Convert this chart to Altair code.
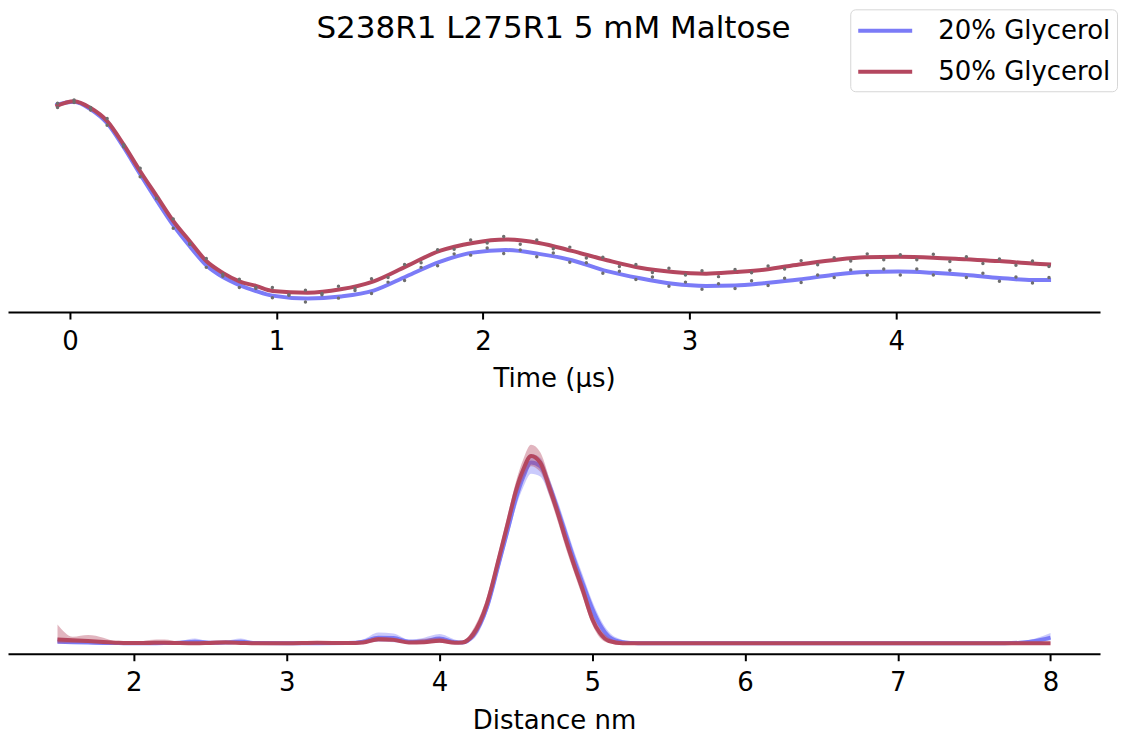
import altair as alt
import pandas as pd

TITLE = "S238R1 L275R1 5 mM Maltose"

# ---------------- data: time domain (top panel) ----------------
SERIES = ["20% Glycerol", "50% Glycerol"]

T_FIT = [-0.07, 0.02, 0.10, 0.18, 0.26, 0.34, 0.42, 0.50, 0.58, 0.66,
         0.74, 0.82, 0.90, 0.98, 1.15, 1.31, 1.47, 1.63, 1.79, 1.95,
         2.11, 2.27, 2.43, 2.60, 2.76, 2.92, 3.08, 3.22, 3.37, 3.53,
         3.69, 3.85, 4.01, 4.18, 4.34, 4.50, 4.66, 4.75]
FIT_20 = [0.991, 0.999, 0.981, 0.948, 0.891, 0.827, 0.765, 0.706, 0.656, 0.611,
          0.583, 0.564, 0.550, 0.539, 0.532, 0.537, 0.551, 0.585, 0.619, 0.641,
          0.647, 0.638, 0.623, 0.597, 0.580, 0.567, 0.562, 0.563, 0.569, 0.577,
          0.588, 0.595, 0.596, 0.593, 0.588, 0.581, 0.576, 0.576]
FIT_50 = [0.988, 1.000, 0.984, 0.953, 0.897, 0.834, 0.775, 0.716, 0.668, 0.621,
          0.593, 0.573, 0.562, 0.550, 0.546, 0.554, 0.573, 0.609, 0.645, 0.664,
          0.672, 0.664, 0.645, 0.623, 0.605, 0.595, 0.591, 0.595, 0.601, 0.613,
          0.623, 0.630, 0.631, 0.629, 0.625, 0.621, 0.615, 0.613]

T_DOT = [-0.06, 0.02, 0.10, 0.18, 0.26, 0.34, 0.42, 0.50, 0.58, 0.66,
         0.74, 0.82, 0.90, 0.98, 1.06, 1.14, 1.22, 1.30, 1.38, 1.46,
         1.54, 1.62, 1.70, 1.78, 1.86, 1.94, 2.02, 2.10, 2.18, 2.26,
         2.34, 2.42, 2.50, 2.58, 2.66, 2.74, 2.82, 2.90, 2.98, 3.06,
         3.14, 3.22, 3.30, 3.38, 3.46, 3.54, 3.62, 3.70, 3.78, 3.86,
         3.94, 4.02, 4.10, 4.18, 4.26, 4.34, 4.42, 4.50, 4.58, 4.66, 4.74]
DOT_20 = [0.995, 0.997, 0.985, 0.943, 0.897, 0.821, 0.770, 0.699, 0.662, 0.606,
          0.590, 0.558, 0.558, 0.534, 0.541, 0.524, 0.541, 0.533, 0.551, 0.544,
          0.571, 0.575, 0.606, 0.610, 0.638, 0.635, 0.652, 0.639, 0.647, 0.631,
          0.640, 0.618, 0.617, 0.592, 0.597, 0.577, 0.583, 0.561, 0.571, 0.554,
          0.567, 0.556, 0.574, 0.563, 0.580, 0.570, 0.588, 0.582, 0.600, 0.588,
          0.602, 0.588, 0.602, 0.588, 0.599, 0.582, 0.592, 0.573, 0.583, 0.569, 0.582]
DOT_50 = [0.985, 1.003, 0.979, 0.959, 0.892, 0.841, 0.769, 0.721, 0.661, 0.627,
          0.585, 0.578, 0.556, 0.558, 0.540, 0.552, 0.544, 0.561, 0.556, 0.579,
          0.582, 0.613, 0.617, 0.648, 0.649, 0.671, 0.664, 0.679, 0.661, 0.671,
          0.650, 0.654, 0.628, 0.630, 0.608, 0.613, 0.594, 0.604, 0.588, 0.598,
          0.584, 0.601, 0.593, 0.609, 0.602, 0.622, 0.612, 0.629, 0.621, 0.638,
          0.624, 0.636, 0.624, 0.637, 0.620, 0.631, 0.615, 0.626, 0.611, 0.621, 0.608]

TIME_TICKS = [0, 1, 2, 3, 4]

# ---------------- data: distance domain (bottom panel) ----------------
R = [1.5, 1.6, 1.7, 1.8, 1.9, 2.0, 2.1, 2.2, 2.3, 2.4, 2.5, 2.6, 2.7, 2.8,
     3.0, 3.2, 3.4, 3.5, 3.6, 3.7, 3.8, 3.9, 4.0, 4.1,
     4.15, 4.22, 4.31, 4.39, 4.45, 4.50, 4.55, 4.60, 4.66, 4.72,
     4.78, 4.83, 4.88, 4.94, 5.0, 5.05, 5.11, 5.2, 5.3,
     5.5, 6.0, 6.5, 7.0, 7.5, 7.7, 7.8, 7.9, 8.0]
P_20 = [0.008, 0.006, 0.004, 0.002, 0.001, 0.000, 0.000, 0.001, 0.003, 0.008, 0.003, 0.004, 0.008, 0.001,
        0.000, 0.000, 0.001, 0.008, 0.030, 0.028, 0.008, 0.010, 0.025, 0.006,
        0.004, 0.040, 0.190, 0.430, 0.615, 0.770, 0.890, 0.965, 0.945, 0.840,
        0.700, 0.575, 0.450, 0.315, 0.185, 0.100, 0.035, 0.006, 0.000,
        0.000, 0.000, 0.000, 0.000, 0.000, 0.000, 0.003, 0.012, 0.030]
LO_20 = [0.000, 0.000, 0.000, 0.000, 0.000, 0.000, 0.000, 0.000, 0.000, 0.000, 0.000, 0.000, 0.000, 0.000,
         0.000, 0.000, 0.000, 0.001, 0.008, 0.006, 0.001, 0.002, 0.005, 0.000,
         0.000, 0.020, 0.160, 0.395, 0.575, 0.725, 0.835, 0.905, 0.890, 0.790,
         0.655, 0.530, 0.405, 0.270, 0.150, 0.070, 0.015, 0.000, 0.000,
         0.000, 0.000, 0.000, 0.000, 0.000, 0.000, 0.000, 0.004, 0.015]
HI_20 = [0.030, 0.020, 0.012, 0.006, 0.003, 0.002, 0.002, 0.006, 0.012, 0.026, 0.010, 0.014, 0.026, 0.006,
         0.002, 0.002, 0.004, 0.020, 0.058, 0.052, 0.020, 0.030, 0.049, 0.020,
         0.010, 0.065, 0.225, 0.465, 0.655, 0.815, 0.940, 1.010, 0.990, 0.880,
         0.745, 0.620, 0.495, 0.360, 0.225, 0.135, 0.060, 0.018, 0.004,
         0.002, 0.002, 0.002, 0.002, 0.002, 0.003, 0.008, 0.025, 0.055]
P_50 = [0.020, 0.016, 0.012, 0.007, 0.003, 0.001, 0.002, 0.003, 0.001, 0.000, 0.002, 0.004, 0.002, 0.000,
        0.000, 0.003, 0.001, 0.004, 0.022, 0.018, 0.004, 0.006, 0.013, 0.003,
        0.004, 0.048, 0.209, 0.456, 0.650, 0.813, 0.930, 1.000, 0.965, 0.830,
        0.680, 0.545, 0.420, 0.278, 0.130, 0.055, 0.012, 0.000, 0.000,
        0.000, 0.000, 0.000, 0.000, 0.000, 0.000, 0.000, 0.000, 0.000]
LO_50 = [0.000, 0.002, 0.003, 0.002, 0.000, 0.000, 0.000, 0.000, 0.000, 0.000, 0.000, 0.000, 0.000, 0.000,
         0.000, 0.000, 0.000, 0.000, 0.010, 0.008, 0.000, 0.000, 0.004, 0.000,
         0.000, 0.025, 0.175, 0.420, 0.610, 0.770, 0.880, 0.945, 0.915, 0.785,
         0.635, 0.500, 0.380, 0.240, 0.100, 0.030, 0.002, 0.000, 0.000,
         0.000, 0.000, 0.000, 0.000, 0.000, 0.000, 0.000, 0.000, 0.000]
HI_50 = [0.100, 0.035, 0.044, 0.030, 0.006, 0.004, 0.018, 0.020, 0.008, 0.004, 0.014, 0.016, 0.008, 0.002,
         0.004, 0.008, 0.004, 0.010, 0.034, 0.030, 0.012, 0.024, 0.030, 0.012,
         0.012, 0.075, 0.245, 0.495, 0.695, 0.860, 0.985, 1.060, 1.020, 0.880,
         0.725, 0.590, 0.460, 0.320, 0.165, 0.080, 0.030, 0.004, 0.003,
         0.003, 0.003, 0.003, 0.003, 0.003, 0.003, 0.003, 0.003, 0.003]

DIST_TICKS = [2, 3, 4, 5, 6, 7, 8]

# ---------------- styling ----------------
BLUE = "#7b7bf7"
RED = "#b4475f"
FONT = "DejaVu Sans"

fit_df = pd.DataFrame({
    "t": T_FIT + T_FIT,
    "v": FIT_20 + FIT_50,
    "series": [SERIES[0]] * len(T_FIT) + [SERIES[1]] * len(T_FIT),
})
dot_df = pd.DataFrame({
    "t": T_DOT + T_DOT,
    "v": DOT_20 + DOT_50,
})
title_df = pd.DataFrame({"title": [TITLE]})
dist_20 = pd.DataFrame({"r": R, "p": P_20, "lo": LO_20, "hi": HI_20})
dist_50 = pd.DataFrame({"r": R, "p": P_50, "lo": LO_50, "hi": HI_50})

W = 1093
H_TOP = 303
H_BOT = 230

x_time = alt.X("t:Q", scale=alt.Scale(domain=[-0.30, 4.987], nice=False, zero=False),
               axis=alt.Axis(values=TIME_TICKS, title="Time (µs)", format="d"))
y_time = alt.Y("v:Q", scale=alt.Scale(domain=[0.5, 0.5 + H_TOP / 422], nice=False, zero=False),
               axis=None)

fits = alt.Chart(fit_df).mark_line(strokeWidth=4, interpolate="monotone").encode(
    x=x_time, y=y_time,
    color=alt.Color("series:N",
                    scale=alt.Scale(domain=SERIES, range=[BLUE, RED]),
                    legend=alt.Legend(
                        title=None, orient="none", legendX=843, legendY=0,
                        symbolType="M-1,0H3", symbolSize=729, symbolStrokeWidth=4,
                        labelFontSize=26, labelFont=FONT, labelColor="black",
                        labelLimit=0, fillColor="white", strokeColor="#d6d6d6",
                        cornerRadius=5, padding=6, rowPadding=12, labelOffset=51)),
)
dots = alt.Chart(dot_df).mark_circle(size=12, color="#6e6e6e", opacity=1).encode(
    x="t:Q", y="v:Q")
title_mark = alt.Chart(title_df).mark_text(
    fontSize=31, font=FONT, color="black", align="center", baseline="alphabetic"
).encode(x=alt.value(546), y=alt.value(29), text="title:N")

top = alt.layer(fits, dots, title_mark).properties(width=W, height=H_TOP)

DIST_Y = alt.Scale(domain=[-0.056, 1.1707], nice=False, zero=False)
x_dist = alt.X("r:Q", scale=alt.Scale(domain=[1.176, 8.324], nice=False, zero=False),
               axis=alt.Axis(values=DIST_TICKS, title="Distance nm", format="d"))


def band(df, col):
    return alt.Chart(df).mark_area(color=col, opacity=0.4, interpolate="monotone").encode(
        x=x_dist, y=alt.Y("lo:Q", scale=DIST_Y, axis=None), y2="hi:Q")


def line(df, col):
    return alt.Chart(df).mark_line(color=col, strokeWidth=4, interpolate="monotone").encode(
        x=x_dist, y=alt.Y("p:Q", scale=DIST_Y, axis=None))


bottom = alt.layer(band(dist_20, BLUE), line(dist_20, BLUE),
                   band(dist_50, RED), line(dist_50, RED)).properties(width=W, height=H_BOT)

chart = alt.vconcat(top, bottom, spacing=32).properties(
    padding=0,
).configure_view(stroke=None).configure_axis(
    domainColor="black", domainWidth=2, tickColor="black", tickWidth=2, tickSize=7,
    labelFontSize=26, titleFontSize=26, labelFont=FONT, titleFont=FONT,
    labelColor="black", titleColor="black", titleFontWeight="normal", grid=False,
    labelPadding=9, titlePadding=12,
)

chart.save("out.html", embed_options={"renderer": "svg", "actions": False})
